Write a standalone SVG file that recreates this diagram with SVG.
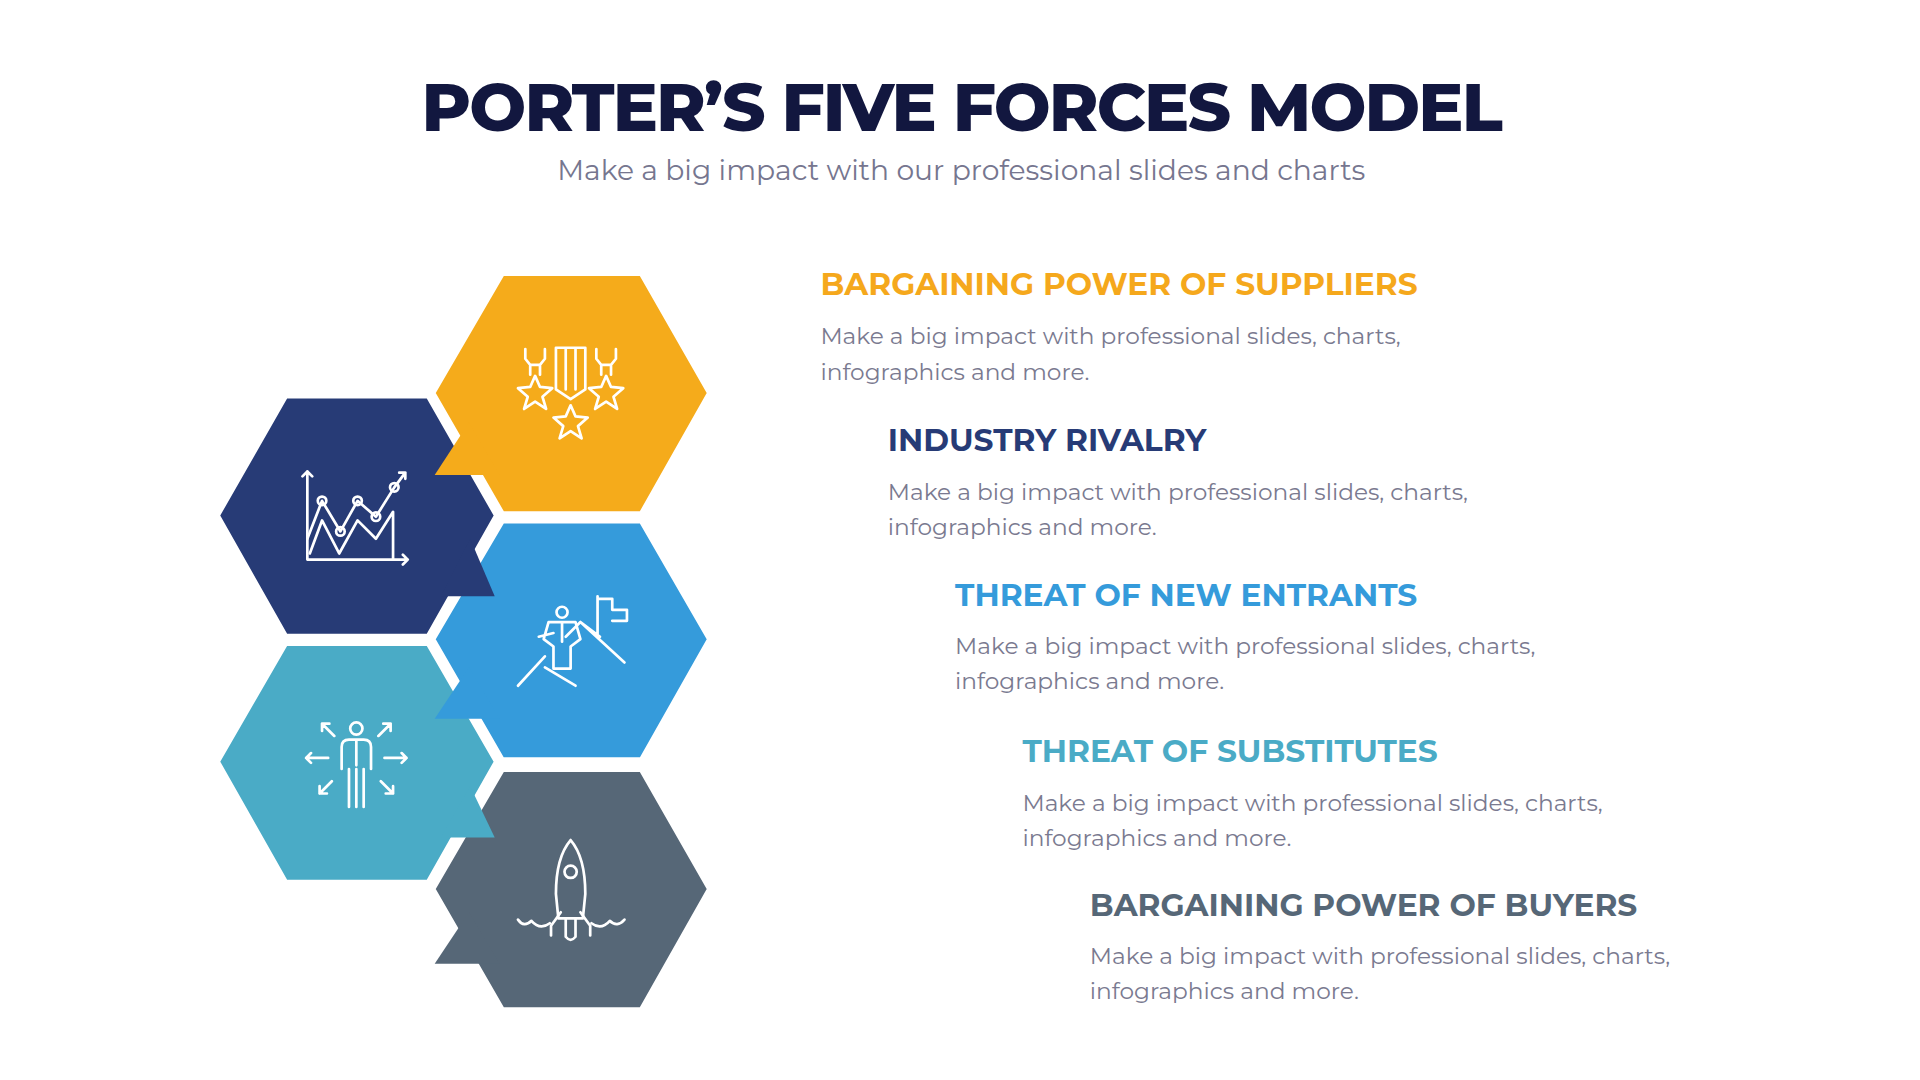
<svg xmlns="http://www.w3.org/2000/svg" width="1920" height="1080" viewBox="0 0 1920 1080">
<style>
.t{font-family:Montserrat,Inter,"Liberation Sans",sans-serif}
.h{font-weight:700;font-size:25.5px}
.b{font-size:19px;fill:#7a7a90}
.ic{fill:none;stroke:#fff;stroke-width:2.2;stroke-linejoin:round;stroke-linecap:round}
.hx{stroke:#fff;stroke-width:5;stroke-linejoin:miter}
</style>
<rect width="1920" height="1080" fill="#fff"/>
<g transform="scale(1.2245)">
<text class="t" x="785" y="107" text-anchor="middle" font-size="55" font-weight="800" fill="#12173f" letter-spacing="-1.5">PORTER’S FIVE FORCES MODEL</text>
<text class="t" x="785" y="147" text-anchor="middle" font-size="23" fill="#76768f">Make a big impact with our professional slides and charts</text>

<g id="navy"><path class="hx" fill="#273b76" d="M233,323 L350,323 L406,421 L350,520 L233,520 L177,421Z"/></g>
<g id="orange"><path class="hx" fill="#f5ab1b" d="M410,223 L524,223 L580,321 L524,420 L410,420 L353,321Z"/>
<path fill="#f5ab1b" d="M355,388 L383,345 L408,388Z"/></g>
<g id="blue"><path class="hx" fill="#359bdb" d="M410,425 L524,425 L580,522 L524,621 L410,621 L353,522Z"/></g>
<path fill="#273b76" d="M404,487 L360,487 L384,440Z"/>
<g id="teal"><path class="hx" fill="#4aabc6" d="M233,525 L350,525 L406,622 L350,721 L233,721 L177,622Z"/></g>
<path fill="#359bdb" d="M355,587 L383,545 L408,587Z"/>
<g id="gray"><path class="hx" fill="#566777" d="M410,628 L524,628 L580,726 L524,825 L410,825 L353,726Z"/>
<path fill="#566777" d="M355,787 L383,745 L408,787Z"/></g>
<path fill="#4aabc6" d="M404,684 L360,684 L384,642Z"/>

<!-- icons -->
<g class="ic">
<path d="M251,385 V457 H333 M329,453 L333,457 L329,461 M247,389 L251,385 L255,389"/>
<path d="M251,440 L263,409 L278,434 L292,409 L307,422 L322,398 L331,386 M326,386 H331 V391"/>
<path d="M253,452 L263,425 L277,452 L292,425 L307,440 L321,418 V457"/>
<circle cx="263" cy="409" r="3.5"/><circle cx="278" cy="434" r="3.5"/><circle cx="292" cy="409" r="3.5"/><circle cx="307" cy="422" r="3.5"/><circle cx="322" cy="398" r="3.5"/>
</g>
<g class="ic">
<path d="M454,284 H478 V318 L466,326 L454,318Z M462,284 V318 M470,284 V318"/>
<path d="M466,331 L470,340 L480,341 L472,348 L475,358 L466,352 L457,358 L460,348 L452,341 L462,340Z"/>
<path d="M437,307 L441,316 L451,317 L443,324 L446,334 L437,328 L428,334 L431,324 L423,317 L433,316Z"/>
<path d="M495,307 L499,316 L509,317 L501,324 L504,334 L495,328 L486,334 L489,324 L481,317 L491,316Z"/>
<path d="M429,285 V293 L433,298 H441 L445,293 V285 M433,298 V306 M441,298 V306 M487,285 V293 L491,298 H499 L503,293 V285 M491,298 V306 M499,298 V306"/>
</g>
<g class="ic">
<path d="M423,560 L445,536 M445,545 L470,560 M462,520 L474,508 L490,520 M474,508 L510,541 M488,487 V520 M488,489 H500 V498 H512 V507 H500"/>
<circle cx="459" cy="500" r="4.5"/>
<path d="M448,508 H470 L474,522 L466,528 V546 H452 V528 L444,522Z M459,508 V524 M440,520 L452,517"/>
</g>
<g class="ic">
<circle cx="291" cy="595" r="5"/>
<path d="M279,628 V610 Q279,604 285,604 H297 Q303,604 303,610 V628 M285,628 V659 M291,628 V659 M297,628 V659 M291,605 V625"/>
<path d="M250,619 H268 M254,615 L250,619 L254,623 M314,619 H332 M328,615 L332,619 L328,623 M263,591 L273,601 M263,597 V591 H269 M319,591 L309,601 M319,597 V591 H313 M261,648 L271,638 M261,642 V648 H267 M321,648 L311,638 M321,642 V648 H315"/>
</g>
<g class="ic">
<path d="M466,686 Q454,700 454,730 L456,750 H476 L478,730 Q478,700 466,686Z"/>
<circle cx="466" cy="712" r="5"/>
<path d="M458,745 L450,756 V764 M474,745 L482,756 V764 M462,750 V765 Q466,770 470,765 V750"/>
<path d="M423,751 Q428,758 434,752 Q441,760 449,754 M483,754 Q491,760 498,752 Q504,758 510,751"/>
</g>

<g id="t1"><text class="t h" x="670" y="241" fill="#f5a81c">BARGAINING POWER OF SUPPLIERS</text>
<text class="t b" x="670" y="281">Make a big impact with professional slides, charts,</text><text class="t b" x="670" y="310">infographics and more.</text></g>
<g id="t2"><text class="t h" x="725" y="368" fill="#273b76">INDUSTRY RIVALRY</text>
<text class="t b" x="725" y="408">Make a big impact with professional slides, charts,</text><text class="t b" x="725" y="437">infographics and more.</text></g>
<g id="t3"><text class="t h" x="780" y="495" fill="#359bdb">THREAT OF NEW ENTRANTS</text>
<text class="t b" x="780" y="534">Make a big impact with professional slides, charts,</text><text class="t b" x="780" y="563">infographics and more.</text></g>
<g id="t4"><text class="t h" x="835" y="622" fill="#4aabc6">THREAT OF SUBSTITUTES</text>
<text class="t b" x="835" y="662">Make a big impact with professional slides, charts,</text><text class="t b" x="835" y="691">infographics and more.</text></g>
<g id="t5"><text class="t h" x="890" y="748" fill="#566777">BARGAINING POWER OF BUYERS</text>
<text class="t b" x="890" y="787">Make a big impact with professional slides, charts,</text><text class="t b" x="890" y="816">infographics and more.</text></g>
</g>
</svg>
